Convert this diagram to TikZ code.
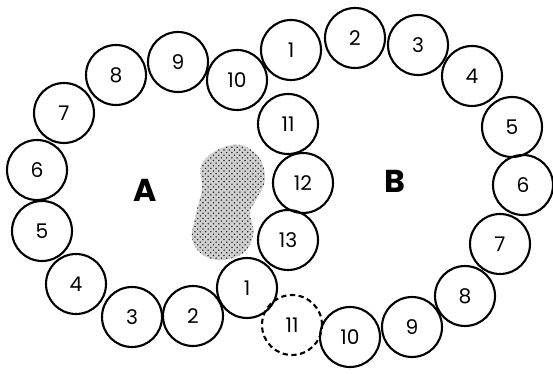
\documentclass[tikz,border=0pt]{standalone}
\usepackage{fontspec}
\setmainfont{Poppins}
\usetikzlibrary{patterns}

\tikzset{
  ball/.style={circle, draw=black, line width=1.2pt, minimum size=1.2cm, inner sep=0pt,
    font=\fontsize{11.5}{13}\selectfont},
  ghostball/.style={ball, dashed, dash pattern=on 3pt off 2pt},
  ringlabel/.style={font=\fontsize{18}{22}\selectfont\bfseries}
}

\begin{document}
\begin{tikzpicture}[x=0.02cm, y=-0.02cm]
  \useasboundingbox (0,0) rectangle (553,374);

  %stippled blob between the rings
  \path[fill=black!18, postaction={pattern=crosshatch dots, pattern color=black!80}]
    plot[smooth cycle, tension=0.7] coordinates {(232,145) (256,154) (265,178) (256,200)
      (250,212) (253,236) (240,255) (212,259) (193,242) (196,214) (202,190) (203,162)};

  %draws ring A
  \foreach \n/\x/\y in {1/247/288, 2/193/316, 3/132/317, 4/76/284, 5/42/231, 6/37/170,
      7/64/113, 8/116/75, 9/178/62, 10/237/80, 11/288/124, 12/303/183, 13/288/240}
    \node (a\n) [ball] at (\x,\y) {\n};%draws ball a\n

  %draws ring B (12 and 13 are shared with A)
  \foreach \n/\x/\y in {1/291/50, 2/355/38, 3/418/45, 4/472/76, 5/512/127, 6/523/185,
      7/500/244, 8/465/296, 9/412/327, 10/350/337}
    \node (b\n) [ball] at (\x,\y) {\n};%draws ball b\n
  \node (b11) [ghostball] at (292,325) {11};%draws the missing ball

  %ring names
  \node (A) [ringlabel] at (145,190) {A};%labels ring A
  \node (B) [ringlabel] at (395,181) {B};%labels ring B
\end{tikzpicture}
\end{document}
